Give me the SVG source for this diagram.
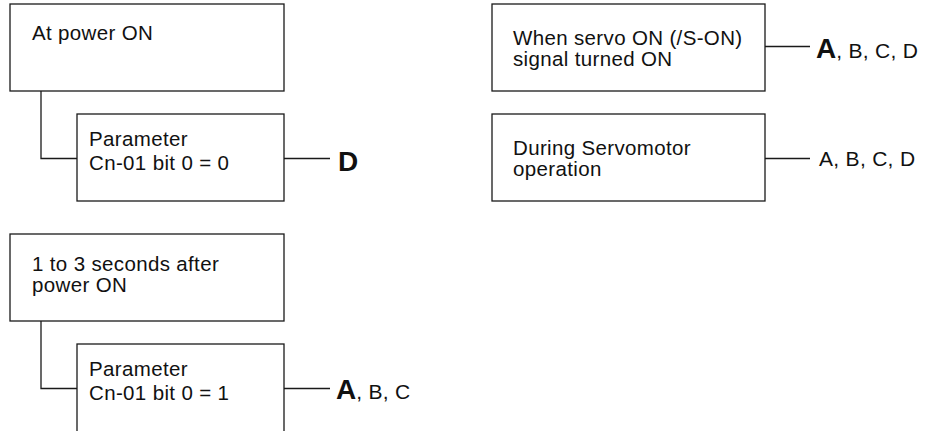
<svg xmlns="http://www.w3.org/2000/svg" width="926" height="431" viewBox="0 0 926 431">
<style>
.box{fill:#fff;stroke:#1a1a1a;stroke-width:1.3}
.con{fill:none;stroke:#1a1a1a;stroke-width:1.3}
.t{font-family:"Liberation Sans",Arial,sans-serif;font-size:20.5px;letter-spacing:0.35px;fill:#111}
.lbl{font-family:"Liberation Sans",Arial,sans-serif;font-size:21px;letter-spacing:0.3px;fill:#111}
.big{font-family:"Liberation Sans",Arial,sans-serif;font-size:28px;font-weight:bold;fill:#111}
</style>
<rect width="926" height="431" fill="#fff"/>
<g id="connectors">
<path class="con" d="M41 91 V158.5 H77"/>
<path class="con" d="M284 158.5 H330"/>
<path class="con" d="M41 321 V388.5 H77"/>
<path class="con" d="M284 388.5 H330"/>
<path class="con" d="M765 46.5 H810"/>
<path class="con" d="M765 158.5 H810"/>
</g>
<g id="power-on">
<rect class="box" x="10" y="4" width="274" height="87"/>
<text class="t" x="32" y="40">At power ON</text>
</g>
<g id="param-0">
<rect class="box" x="77" y="114" width="207" height="87"/>
<text class="t" x="89" y="146">Parameter</text>
<text class="t" x="89" y="170">Cn-01 bit 0 = 0</text>
</g>
<g id="label-d">
<text class="big" x="338" y="171">D</text>
</g>
<g id="after-power-on">
<rect class="box" x="10" y="234" width="274" height="87"/>
<text class="t" x="32" y="271">1 to 3 seconds after</text>
<text class="t" x="32" y="292">power ON</text>
</g>
<g id="param-1">
<rect class="box" x="77" y="344" width="207" height="100"/>
<text class="t" x="89" y="376">Parameter</text>
<text class="t" x="89" y="400">Cn-01 bit 0 = 1</text>
</g>
<g id="label-abc">
<text x="336" y="399"><tspan class="big">A</tspan><tspan class="lbl">, B, C</tspan></text>
</g>
<g id="servo-on">
<rect class="box" x="492" y="4" width="273" height="87"/>
<text class="t" x="513" y="45">When servo ON (/S-ON)</text>
<text class="t" x="513" y="66">signal turned ON</text>
</g>
<g id="label-abcd-1">
<text x="816" y="58"><tspan class="big">A</tspan><tspan class="lbl">, B, C, D</tspan></text>
</g>
<g id="servomotor-op">
<rect class="box" x="492" y="114" width="273" height="87"/>
<text class="t" x="513" y="155">During Servomotor</text>
<text class="t" x="513" y="176">operation</text>
</g>
<g id="label-abcd-2">
<text class="lbl" x="819" y="166">A, B, C, D</text>
</g>
</svg>
